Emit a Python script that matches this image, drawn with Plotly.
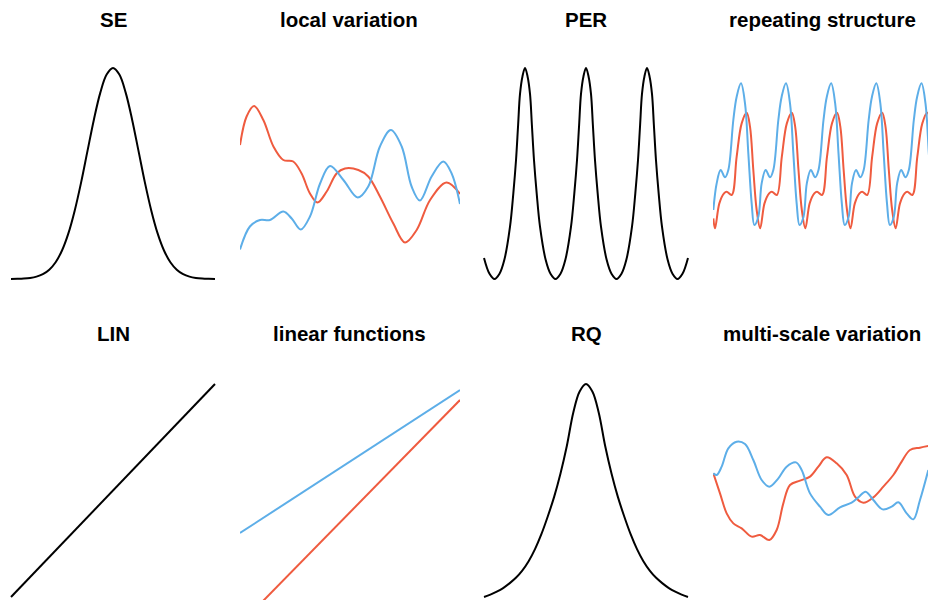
import plotly.graph_objects as go

BLACK = "#000000"
RED = "#EF5B3F"
BLUE = "#5DAEE8"

# ---------------- kernel shapes (lag on x, normalised covariance on y) ----------------
se_x = [-4.0, -3.75, -3.5, -3.25, -3.0, -2.75, -2.5, -2.25, -2.0, -1.75, -1.5, -1.25, -1.0,
        -0.75, -0.5, -0.25, 0.0, 0.25, 0.5, 0.75, 1.0, 1.25, 1.5, 1.75, 2.0, 2.25, 2.5, 2.75,
        3.0, 3.25, 3.5, 3.75, 4.0]
se_y = [0.0003, 0.0009, 0.0022, 0.0051, 0.0111, 0.0228, 0.0439, 0.0796, 0.135, 0.216, 0.325,
        0.458, 0.607, 0.755, 0.882, 0.969, 1.0, 0.969, 0.882, 0.755, 0.607, 0.458, 0.325, 0.216,
        0.135, 0.0796, 0.0439, 0.0228, 0.0111, 0.0051, 0.0022, 0.0009, 0.0003]

per_x = [-4.0, -3.784, -3.588, -3.392, -3.202, -2.98, -2.85, -2.745, -2.662, -2.588, -2.492,
         -2.392, -2.292, -2.196, -2.122, -2.039, -1.934, -1.804, -1.582, -1.392, -1.196, -1.0,
         -0.81, -0.588, -0.458, -0.353, -0.27, -0.196, -0.1, 0.0, 0.1, 0.196, 0.27, 0.353, 0.458,
         0.588, 0.81, 1.0, 1.196, 1.392, 1.582, 1.804, 1.934, 2.039, 2.122, 2.196, 2.292, 2.392,
         2.492, 2.588, 2.662, 2.745, 2.85, 2.98, 3.202, 3.392, 3.588, 3.784, 4.0]
per_y = [0.10, 0.025, 0.0, 0.025, 0.091, 0.248, 0.406, 0.563, 0.73, 0.877, 0.96,
         1.0, 0.96, 0.877, 0.73, 0.563, 0.406, 0.248, 0.091, 0.025, 0.0, 0.025,
         0.091, 0.248, 0.406, 0.563, 0.73, 0.877, 0.96, 1.0, 0.96, 0.877, 0.73, 0.563, 0.406,
         0.248, 0.091, 0.025, 0.0, 0.025, 0.091, 0.248, 0.406, 0.563, 0.73, 0.877, 0.96, 1.0,
         0.96, 0.877, 0.73, 0.563, 0.406, 0.248, 0.091, 0.025, 0.0, 0.025, 0.10]

lin_x = [-4.0, 4.0]
lin_y = [0.0, 1.0]

rq_x = [-4.0, -3.75, -3.5, -3.25, -3.0, -2.75, -2.5, -2.25, -2.0, -1.75, -1.5, -1.25, -1.0,
        -0.75, -0.5, -0.25, 0.0, 0.25, 0.5, 0.75, 1.0, 1.25, 1.5, 1.75, 2.0, 2.25, 2.5, 2.75,
        3.0, 3.25, 3.5, 3.75, 4.0]
rq_y = [0.0, 0.011, 0.025, 0.042, 0.064, 0.09, 0.124, 0.168, 0.225, 0.295, 0.378, 0.47, 0.58,
        0.71, 0.865, 0.965, 1.0, 0.965, 0.865, 0.71, 0.58, 0.47, 0.378, 0.295, 0.225, 0.168,
        0.124, 0.09, 0.064, 0.042, 0.025, 0.011, 0.0]

# ---------------- sample functions drawn from each prior ----------------
local_red_x = [0.0, 0.30, 0.64, 1.06, 1.52, 1.97, 2.42, 2.80, 3.18, 3.52, 3.94, 4.39, 4.77,
               5.38, 5.83, 6.36, 6.97, 7.50, 8.03, 8.64, 9.39, 10.0]
local_red_y = [0.57, 1.14, 1.35, 1.07, 0.54, 0.27, 0.24, 0.00, -0.40, -0.58, -0.36, 0.00, 0.10,
               0.07, -0.06, -0.46, -1.00, -1.38, -1.13, -0.53, -0.18, -0.41]
local_blue_x = [0.0, 0.45, 0.91, 1.36, 1.97, 2.35, 2.76, 3.18, 3.64, 4.09, 4.70, 5.35, 5.83,
                6.36, 6.86, 7.35, 7.80, 8.18, 8.71, 9.24, 9.62, 10.0]
local_blue_y = [-1.52, -1.06, -0.93, -0.93, -0.76, -0.90, -1.12, -0.86, -0.20, 0.15, -0.13, -0.48,
                -0.26, 0.54, 0.87, 0.54, -0.26, -0.54, -0.06, 0.24, 0.00, -0.61]

rep_blue_x = [0.015, 0.167, 0.348, 0.545, 0.697, 0.924, 1.076, 1.273, 1.455, 1.606, 1.758, 1.879,
              2.061, 2.212, 2.394, 2.591, 2.743, 2.970, 3.121, 3.318, 3.500, 3.652, 3.803, 3.932,
              4.114, 4.265, 4.447, 4.644, 4.796, 5.023, 5.174, 5.371, 5.553, 5.705, 5.856, 5.985,
              6.167, 6.318, 6.500, 6.697, 6.849, 7.076, 7.227, 7.424, 7.606, 7.758, 7.909, 8.038,
              8.220, 8.371, 8.553, 8.750, 8.902, 9.129, 9.280, 9.477, 9.659, 9.811, 9.962]
rep_blue_y = [-0.73, -0.197, 0.07, -0.077, 0.07, 1.07, 1.537, 1.803, 1.403, 0.403, -0.597, -1.03,
              -0.864, -0.197, 0.07, -0.077, 0.07, 1.07, 1.537, 1.803, 1.403, 0.403, -0.597, -1.03,
              -0.864, -0.197, 0.07, -0.077, 0.07, 1.07, 1.537, 1.803, 1.403, 0.403, -0.597, -1.03,
              -0.864, -0.197, 0.07, -0.077, 0.07, 1.07, 1.537, 1.803, 1.403, 0.403, -0.597, -1.03,
              -0.864, -0.197, 0.07, -0.077, 0.07, 1.07, 1.537, 1.803, 1.403, 0.403, -0.597]
rep_red_x = [0.015, 0.091,
             0.288, 0.500, 0.621, 0.849, 1.076, 1.303, 1.530, 1.682, 1.833, 1.985, 2.144,
             2.341, 2.553, 2.674, 2.902, 3.129, 3.356, 3.583, 3.735, 3.886, 4.038, 4.197,
             4.394, 4.606, 4.727, 4.955, 5.182, 5.409, 5.636, 5.788, 5.939, 6.091, 6.250,
             6.447, 6.659, 6.780, 7.008, 7.235, 7.462, 7.689, 7.841, 7.992, 8.144, 8.303,
             8.500, 8.712, 8.833, 9.061, 9.288, 9.515, 9.742, 9.894]
rep_red_y = [-0.897, -1.097,
             -0.597, -0.397, -0.363, -0.43, 0.337, 1.003, 1.217, 0.937, 0.07, -0.73, -1.097,
             -0.597, -0.397, -0.363, -0.43, 0.337, 1.003, 1.217, 0.937, 0.07, -0.73, -1.097,
             -0.597, -0.397, -0.363, -0.43, 0.337, 1.003, 1.217, 0.937, 0.07, -0.73, -1.097,
             -0.597, -0.397, -0.363, -0.43, 0.337, 1.003, 1.217, 0.937, 0.07, -0.73, -1.097,
             -0.597, -0.397, -0.363, -0.43, 0.337, 1.003, 1.217, 0.937]

linfun_blue_x = [0.0, 10.0]
linfun_blue_y = [-0.93, 1.93]
linfun_red_x = [0.0, 10.0]
linfun_red_y = [-2.76, 1.73]

multi_blue_x = [0.015, 0.167, 0.394, 0.697, 1.076, 1.455, 1.833, 2.212, 2.561, 2.970, 3.348,
                3.773, 4.030, 4.409, 4.864, 5.242, 5.773, 6.303, 6.606, 6.939, 7.288, 7.712,
                8.121, 8.424, 8.803, 9.106, 9.409, 9.788]
multi_blue_y = [0.263, 0.23, 0.397, 0.763, 0.897, 0.85, 0.53, 0.13, -0.003, 0.163, 0.397,
                0.483, 0.33, -0.137, -0.403, -0.57, -0.417, -0.323, -0.217, -0.103, -0.27, -0.457,
                -0.403, -0.317, -0.537, -0.657, -0.27, 0.33]
multi_red_x = [0.015, 0.318, 0.621, 0.924, 1.303, 1.758, 2.136, 2.561, 2.894, 3.197, 3.500,
               3.955, 4.409, 4.788, 5.167, 5.621, 6.076, 6.455, 6.833, 7.288, 7.742, 8.197,
               8.576, 8.955, 9.409, 9.788]
multi_red_y = [0.263, -0.137, -0.537, -0.737, -0.837, -1.003, -0.97, -1.07, -0.87, -0.337, 0.03,
               0.117, 0.197, 0.397, 0.583, 0.463, 0.23, -0.203, -0.323, -0.217, -0.003, 0.23,
               0.497, 0.73, 0.777, 0.81]

titles = ["SE", "local variation", "PER", "repeating structure",
          "LIN", "linear functions", "RQ", "multi-scale variation"]

# panel -> list of (x, y, colour, shape)
panels = [
    [(se_x, se_y, BLACK, "spline")],
    [(local_red_x, local_red_y, RED, "spline"), (local_blue_x, local_blue_y, BLUE, "spline")],
    [(per_x, per_y, BLACK, "spline")],
    [(rep_red_x, rep_red_y, RED, "spline"), (rep_blue_x, rep_blue_y, BLUE, "spline")],
    [(lin_x, lin_y, BLACK, "linear")],
    [(linfun_blue_x, linfun_blue_y, BLUE, "linear"), (linfun_red_x, linfun_red_y, RED, "linear")],
    [(rq_x, rq_y, BLACK, "spline")],
    [(multi_red_x, multi_red_y, RED, "spline"), (multi_blue_x, multi_blue_y, BLUE, "spline")],
]

W, H = 928, 600
col_px = [(3, 223), (240, 460), (476, 696), (713, 928)]
row_px = [(57, 290), (373, 600)]
x_ranges = [[-4.314, 4.314], [0, 10], [-4.314, 4.314], [0, 9.773]]
kernel_y = [[-0.0521, 1.0521], [-0.0141, 1.0516]]
sample_y = [[-2.33, 2.33], [-2.27, 2.27]]

fig = go.Figure()
layout = dict(
    width=W, height=H,
    margin=dict(l=0, r=0, t=0, b=0),
    paper_bgcolor="white", plot_bgcolor="white",
    showlegend=False,
    annotations=[],
)

for i, traces in enumerate(panels):
    r, c = divmod(i, 4)
    n = i + 1
    xa = "x" if n == 1 else f"x{n}"
    ya = "y" if n == 1 else f"y{n}"
    for (xs, ys, col, shape) in traces:
        fig.add_trace(go.Scatter(x=xs, y=ys, mode="lines", xaxis=xa, yaxis=ya,
                                 line=dict(color=col, width=2, shape=shape),
                                 hoverinfo="skip"))
    x0, x1 = col_px[c]
    y0, y1 = row_px[r]
    yr = kernel_y[r] if c in (0, 2) else sample_y[r]
    layout["xaxis" if n == 1 else f"xaxis{n}"] = dict(
        domain=[x0 / W, x1 / W], range=x_ranges[c], visible=False, anchor=ya, fixedrange=True)
    layout["yaxis" if n == 1 else f"yaxis{n}"] = dict(
        domain=[1 - y1 / H, 1 - y0 / H], range=yr, visible=False, anchor=xa, fixedrange=True)

title_x = [113, 349, 586, 822]
title_y = [19.5, 333.5]
for i, t in enumerate(titles):
    r, c = divmod(i, 4)
    layout["annotations"].append(dict(
        text=f"<b>{t}</b>", x=title_x[c] / W, y=1 - title_y[r] / H,
        xref="paper", yref="paper", xanchor="center", yanchor="middle",
        showarrow=False, font=dict(family="Liberation Sans, Arial, sans-serif", size=20.5, color="black")))

fig.update_layout(**layout)
fig.write_html("out.html")
